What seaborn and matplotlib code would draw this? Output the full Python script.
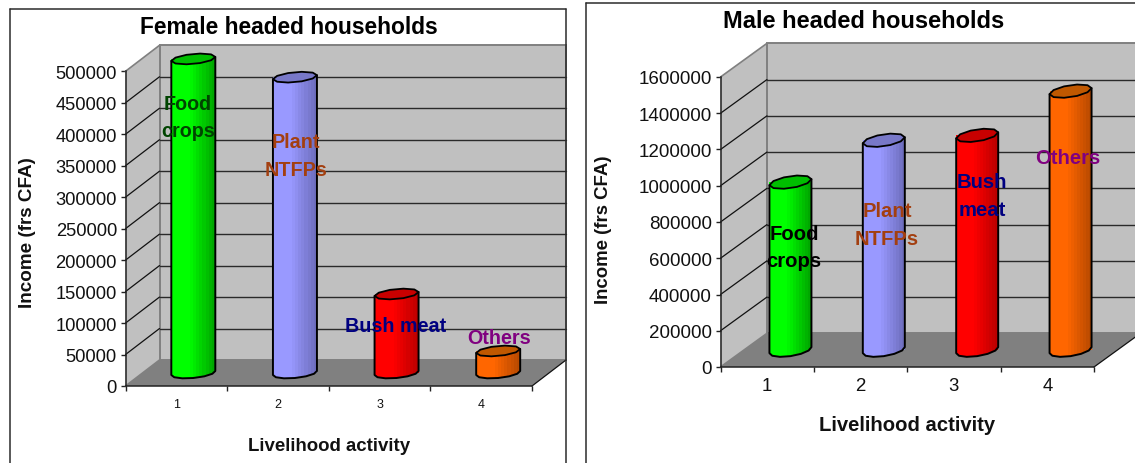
import numpy as np
import pandas as pd
import matplotlib
matplotlib.use("Agg")
import matplotlib.pyplot as plt
from matplotlib.lines import Line2D
from matplotlib.patches import Polygon
import seaborn as sns

# Income by livelihood activity
activities = ["1", "2", "3", "4"]
female_income = [499000, 470000, 125500, 35000]
male_income = [927000, 1158000, 1185000, 1429000]
female_ticks = list(range(0, 500001, 50000))
male_ticks = list(range(0, 1600001, 200000))

activity_names = ["Food\ncrops", "Plant\nNTFPs", "Bush meat", "Others"]
male_activity_names = ["Food\ncrops", "Plant\nNTFPs", "Bush\nmeat", "Others"]
female_text_colors = ["#004400", "#A33F10", "#000080", "#800080"]
male_text_colors = ["#000000", "#A33F10", "#000080", "#800080"]

bar_colors = ["#00FF00", "#9999FF", "#FF0000", "#FF6600"]
dark_colors = ["#00A800", "#6E6EBE", "#BC0000", "#B84A00"]
cap_colors = ["#00BE00", "#7878C8", "#C80000", "#C05800"]

W, H = 1135, 464
sns.set_theme(style="white")
plt.rcParams["font.family"] = ["Liberation Sans", "DejaVu Sans"]

fig = plt.figure(figsize=(W / 100, H / 100), dpi=100)


def fx(px):
    return px / W


def fy(py):
    return 1 - py / H


def frame_line(x0, y0, x1, y1):
    fig.add_artist(Line2D([fx(x0), fx(x1)], [fy(y0), fy(y1)], color="#2b2b2b", lw=1.1))


def lowpoly(cx, cy, a, b, tilt, start, stop, n):
    t = np.radians(np.linspace(start, stop, n))
    x = a * np.cos(t)
    return np.column_stack([cx + x, cy + b * np.sin(t) + tilt * np.cos(t)])


def panel(values, ticks, box, depth, bar_w, cap_b, cap_tilt, tick_size, xtick_size, xpad,
          title, title_xy, title_size, ylabel_xy, ylabel_size, xlabel_xy, xlabel_size, name_size,
          names, name_xy, text_colors):
    left, top, right, bottom = box
    ax = fig.add_axes([fx(left), fy(bottom), fx(right - left), (bottom - top) / H])
    ax.patch.set_visible(False)
    frame = pd.DataFrame({"activity": activities, "income": values})
    sns.barplot(data=frame, x="activity", y="income", hue="activity", palette=bar_colors,
                saturation=1, legend=False, width=bar_w / ((right - left) / 4), ax=ax,
                linewidth=0, zorder=4)
    ymax = ticks[-1]
    ax.set_xlim(-0.5, 3.5)
    ax.set_ylim(0, ymax)

    # Data units per pixel on each axis
    ux = 4 / (right - left)
    uy = ymax / (bottom - top)
    dx, dy = depth[0] * ux, depth[1] * uy
    x0, x1 = -0.5, 3.5

    # Side wall, back wall and floor
    ax.add_patch(Polygon([(x0, 0), (x0, ymax), (x0 + dx, ymax + dy), (x0 + dx, dy)],
                         fc="#C0C0C0", ec="none", clip_on=False, zorder=0))
    ax.add_patch(Polygon([(x0 + dx, dy), (x0 + dx, ymax + dy), (x1 + dx, ymax + dy), (x1 + dx, dy)],
                         fc="#C0C0C0", ec="#808080", lw=1.4, clip_on=False, zorder=0))
    ax.add_patch(Polygon([(x0, 0), (x1, 0), (x1 + dx, dy), (x0 + dx, dy)],
                         fc="#808080", ec="none", clip_on=False, zorder=0.5))
    for v in ticks:
        edge = v in (0, ymax)
        ax.plot([x0, x0 + dx], [v, v + dy], color="#808080" if edge else "#111111",
                lw=1.2 if edge else 0.9, clip_on=False, zorder=1)
        if not edge:
            ax.plot([x0 + dx, x1 + dx], [v + dy, v + dy], color="#2a2a2a", lw=1.0,
                    clip_on=False, zorder=1)
    ax.plot([x1, x1 + dx], [0, dy], color="#111111", lw=0.9, clip_on=False, zorder=1)

    # Each bar stands at mid depth and is shaded as a faceted cylinder
    half = bar_w * ux / 2
    b = cap_b * uy
    tilt = cap_tilt * uy
    ramp = np.concatenate([np.zeros(6), np.linspace(0.1, 1, 8)])
    for i, rect in enumerate(ax.patches[:len(values)]):
        cx = i + dx / 2
        base = dy / 2
        rect.set_x(cx - half)
        rect.set_y(base)
        rect.set_clip_on(False)
        top_y = base + values[i]
        lower = lowpoly(cx, base, half, b, tilt, 180, 360, 7)
        outline = np.vstack([lower, [[cx + half, top_y + tilt]], [[cx - half, top_y - tilt]]])
        ax.add_patch(Polygon(outline, fc="none", ec="black", lw=1.4, clip_on=False, zorder=5,
                             joinstyle="round"))
        c0 = np.array(matplotlib.colors.to_rgb(bar_colors[i]))
        c1 = np.array(matplotlib.colors.to_rgb(dark_colors[i]))
        shade = c0[None, None, :] * (1 - ramp[None, :, None]) + c1[None, None, :] * ramp[None, :, None]
        img = ax.imshow(shade, extent=[cx - half, cx + half, base - 2 * b, top_y + 2 * b],
                        aspect="auto", interpolation="nearest", zorder=4.5)
        img.set_clip_path(Polygon(outline, transform=ax.transData))
        img.set_clip_box(fig.bbox)
        cap = lowpoly(cx, top_y, half, b, tilt, 0, 324, 10)
        ax.add_patch(Polygon(cap, fc=cap_colors[i], ec="black", lw=1.3, clip_on=False, zorder=6,
                             joinstyle="round"))
        name_x, name_y = name_xy[i]
        fig.text(fx(name_x), fy(name_y), names[i], color=text_colors[i], fontsize=name_size,
                 fontweight="bold", ha="center", va="center", linespacing=1.55, zorder=10)
    ax.set_xlim(-0.5, 3.5)
    ax.set_ylim(0, ymax)

    # Axes on the front plane
    sns.despine(ax=ax)
    for side in ("left", "bottom"):
        ax.spines[side].set_color("#222222")
        ax.spines[side].set_linewidth(1.1)
        ax.spines[side].set_zorder(3)
    ax.set_yticks(ticks, [str(v) for v in ticks])
    ax.set_xticks(np.arange(-0.5, 4, 1), [""] * 5)
    ax.set_xticks(range(4), activities, minor=True)
    ax.tick_params(axis="y", which="major", left=True, length=3.6, width=1, color="#222222",
                   labelsize=tick_size, pad=2.6, labelcolor="#111111")
    ax.tick_params(axis="x", which="major", bottom=True, length=3.6, width=1, color="#222222")
    ax.tick_params(axis="x", which="minor", bottom=False, length=0, labelsize=xtick_size,
                   pad=xpad, labelcolor="#111111")

    ax.set_xlabel("Livelihood activity", fontsize=xlabel_size, fontweight="bold", color="#111111",
                  va="center")
    ax.xaxis.set_label_coords(fx(xlabel_xy[0]), fy(xlabel_xy[1]), transform=fig.transFigure)
    ax.set_ylabel("Income (frs CFA)", fontsize=ylabel_size, fontweight="bold", color="#111111",
                  va="center")
    ax.yaxis.set_label_coords(fx(ylabel_xy[0]), fy(ylabel_xy[1]), transform=fig.transFigure)
    fig.text(fx(title_xy[0]), fy(title_xy[1]), title, fontsize=title_size, fontweight="bold",
             ha="center", va="center", color="black")


panel(female_income, female_ticks, (125.5, 72.3, 532, 387), (34, 26), 44, 5, 2,
      13.2, 9, 8.5, "Female headed households", (288.5, 28), 16.4, (27, 233), 13.6, (329.5, 447), 13.4, 14.2,
      activity_names, [(188, 118), (295.5, 156.5), (396, 327), (498.7, 339)], female_text_colors)
panel(male_income, male_ticks, (720.5, 78, 1094, 368), (46.5, 33.7), 42, 6, 3,
      13.5, 13.4, 7, "Male headed households", (864, 22), 17, (603, 230), 13.4, (907.5, 426), 14.6, 14.6,
      male_activity_names, [(794, 248), (887, 225.5), (982, 196.5), (1068, 159)], male_text_colors)

# Outer borders of the two chart areas
frame_line(10, 10, 566, 10)
frame_line(10, 10, 10, 464)
frame_line(566, 10, 566, 464)
frame_line(586, 4, 1135, 4)
frame_line(586, 4, 586, 464)

fig.savefig("out.png", dpi=100)
